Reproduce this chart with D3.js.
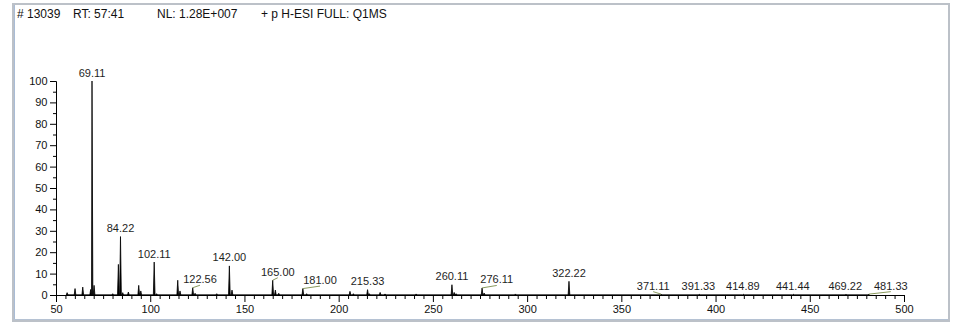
<!DOCTYPE html>
<html>
<head>
<meta charset="utf-8">
<script src="https://cdn.jsdelivr.net/npm/d3@7"></script>
<style>
  html, body { margin: 0; padding: 0; background: #fff; }
  svg { display: block; }
  text { font-family: "Liberation Sans", Arial, Helvetica, sans-serif; }
</style>
</head>
<body>
<svg id="chart" width="953" height="324"></svg>
<script>
// ---- data ----
const headerItems = ["# 13039", "RT: 57:41", "NL: 1.28E+007", "+ p H-ESI FULL: Q1MS"];
const peakMz = [55.9, 60.1, 64.2, 68.4, 69.11, 70.2, 80.1, 83.1, 84.22, 85.4, 88.4, 93.9, 95.0,
  102.11, 103.4, 114.6, 115.8, 122.56, 123.8, 135.3, 142.00, 143.4, 165.00, 166.4, 168.2,
  181.00, 183.0, 206.0, 207.8, 215.33, 216.3, 222.0, 224.6, 241.1, 260.11, 261.3, 262.3,
  276.11, 277.2, 293.8, 322.22, 371.11, 391.33, 414.89, 441.44, 469.22, 481.33];
const peakIntensity = [1.1, 3.0, 3.7, 2.6, 100, 4.5, 0.6, 14.3, 27.3, 1.1, 1.4, 4.5, 1.9,
  15.4, 0.6, 6.9, 1.9, 3.4, 0.8, 0.6, 13.6, 2.3, 6.9, 2.3, 0.8,
  3.0, 0.6, 1.7, 0.6, 2.5, 0.6, 1.2, 0.5, 0.5, 4.8, 1.2, 0.6,
  3.3, 0.9, 0.5, 6.4, 0.4, 0.3, 0.3, 0.3, 0.3, 0.4];
const labelMz = [69.11, 84.22, 102.11, 122.56, 142.00, 165.00, 181.00, 215.33, 260.11,
  276.11, 322.22, 371.11, 391.33, 414.89, 441.44, 469.22, 481.33];
const xTicks = [50, 100, 150, 200, 250, 300, 350, 400, 450, 500];
const yTicks = [0, 10, 20, 30, 40, 50, 60, 70, 80, 90, 100];

// ---- layout (label anchor positions in m/z units, where labels were moved aside) ----
const labelAnchor = {122.56: 126.4, 165.00: 167.7, 181.00: 190.1, 276.11: 283.9,
  371.11: 366.9, 391.33: 390.9, 414.89: 414.5, 441.44: 441.0, 469.22: 468.8, 481.33: 493.0};

const svg = d3.select("#chart");
const W = 953, H = 324;

// frame
svg.append("rect").attr("x", 0).attr("y", 0).attr("width", W).attr("height", H).attr("fill", "#fff");
svg.append("rect").attr("x", 13).attr("y", 4).attr("width", 936).attr("height", 317)
  .attr("fill", "#fff").attr("stroke", "#bcc1c8").attr("stroke-width", 2);
svg.append("line").attr("x1", 14.5).attr("x2", 14.5).attr("y1", 5).attr("y2", 320)
  .attr("stroke", "#a9bcd6").attr("stroke-width", 1);
svg.append("line").attr("x1", 14).attr("x2", 948).attr("y1", 319.5).attr("y2", 319.5)
  .attr("stroke", "#b5c2d3").attr("stroke-width", 1);

// header
const headerX = [17, 73, 157, 261];
svg.append("g").selectAll("text").data(headerItems).join("text")
  .attr("x", (d, i) => headerX[i]).attr("y", 17.5)
  .attr("font-size", 12).attr("fill", "#111").text(d => d);

// scales
const x = d3.scaleLinear().domain([50, 500]).range([56, 904]);
const y = d3.scaleLinear().domain([0, 100]).range([295, 81]);

// axes
const minorX = d3.range(50, 501, 5).filter(v => v % 50 !== 0);
const minorY = d3.range(5, 100, 10);

const gx = svg.append("g").attr("transform", `translate(0,${y(0)})`);
gx.call(d3.axisBottom(x).tickValues(minorX).tickSize(4).tickSizeOuter(0).tickFormat(""));
const gx2 = svg.append("g").attr("transform", `translate(0,${y(0)})`);
gx2.call(d3.axisBottom(x).tickValues(xTicks).tickSize(7).tickSizeOuter(0).tickPadding(3).tickFormat(d3.format("d")));

const gy = svg.append("g").attr("transform", `translate(${x(50)},0)`);
gy.call(d3.axisLeft(y).tickValues(minorY).tickSize(3).tickSizeOuter(0).tickFormat(""));
const gy2 = svg.append("g").attr("transform", `translate(${x(50)},0)`);
gy2.call(d3.axisLeft(y).tickValues(yTicks).tickSize(6).tickSizeOuter(0).tickPadding(2.5).tickFormat(d3.format("d")));

svg.selectAll(".domain, .tick line").attr("stroke", "#000");
svg.selectAll(".tick text").attr("font-size", 11).attr("fill", "#111")
  .attr("font-family", "'Liberation Sans', Arial, sans-serif");

// spectrum profile
const peaks = peakMz.map((m, i) => ({m, v: peakIntensity[i]}));
const hw = 0.45;
const pts = [];
peaks.forEach(p => { pts.push({m: p.m - hw, v: 0}, {m: p.m, v: p.v}, {m: p.m + hw, v: 0}); });
pts.sort((a, b) => a.m - b.m);
const area = d3.area().x(d => x(d.m)).y0(y(0)).y1(d => y(d.v));
svg.append("path").datum(pts).attr("d", area)
  .attr("fill", "#000").attr("stroke", "#000").attr("stroke-width", 0.8).attr("stroke-linejoin", "round");

// labels
const labels = labelMz.map(m => {
  const pk = peaks.find(p => Math.abs(p.m - m) < 0.01);
  return {m, v: pk ? pk.v : 0, at: labelAnchor[m] !== undefined ? labelAnchor[m] : m};
});
const lg = svg.append("g");
labels.forEach(d => {
  const px = x(d.m), py = y(d.v);
  const lx = x(d.at), ly = py - 4.5;
  if (Math.abs(lx - px) > 2) {
    lg.append("line").attr("x1", px).attr("y1", py).attr("x2", lx).attr("y2", ly + 2)
      .attr("stroke", "#8a9a5e").attr("stroke-width", 1);
  }
  lg.append("text").attr("x", lx).attr("y", ly).attr("text-anchor", "middle")
    .attr("font-size", 11).attr("fill", "#1e1e1e").text(d.m.toFixed(2));
});
</script>
</body>
</html>
